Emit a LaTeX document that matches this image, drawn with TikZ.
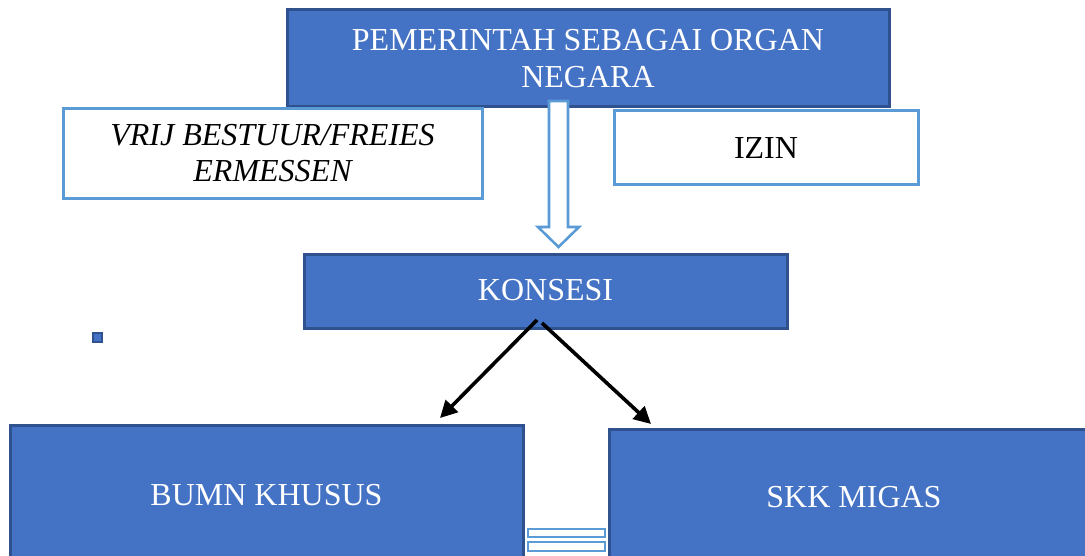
\documentclass[tikz,border=0pt]{standalone}
\usepackage{fontspec}
\setmainfont{Liberation Serif}
\usetikzlibrary{arrows.meta}
\definecolor{boxblue}{HTML}{4472C4}
\definecolor{boxedge}{HTML}{2F528F}
\definecolor{lightedge}{HTML}{5B9BD5}
\tikzset{
  bluebox/.style={draw=boxedge, fill=boxblue, line width=3pt, text=white,
    rectangle, inner sep=0pt, align=center, font=\fontsize{32}{37}\selectfont},
  whitebox/.style={draw=lightedge, fill=white, line width=3pt, text=black,
    rectangle, inner sep=0pt, align=center, font=\fontsize{32}{36}\selectfont},
  hollow/.style={draw=lightedge, fill=white, line width=2.6pt},
  blackarrow/.style={draw=black, line width=3.6pt, -{Triangle[length=17pt,width=17pt]}}
}
\begin{document}
\begin{tikzpicture}[x=1pt,y=-1pt]
\useasboundingbox (0,0) rectangle (1085,556);
\clip (0,0) rectangle (1085,556);

% top box
\node[bluebox, minimum width=602pt, minimum height=97pt] (gov) at (588,58.5)
  {PEMERINTAH SEBAGAI ORGAN\\NEGARA};

% side boxes
\node[whitebox, minimum width=419pt, minimum height=90pt] (vrij) at (272.5,153.5)
  {\itshape VRIJ BESTUUR/FREIES\\\itshape ERMESSEN};
\node[whitebox, minimum width=304pt, minimum height=74pt] (izin) at (766,148)
  {\raisebox{-7pt}{IZIN}};

% hollow down arrow
\draw[hollow] (549,101) -- (568,101) -- (568,227) -- (579,227) -- (558.5,247)
  -- (538,227) -- (549,227) -- cycle;

% konsesi
\node[bluebox, minimum width=483pt, minimum height=73pt] (kons) at (545.5,291.5)
  {\raisebox{4pt}{KONSESI}};

% small square
\node[draw=boxedge, fill=boxblue, line width=1.8pt, minimum size=9pt, inner sep=0pt] (sq) at (97.5,337.5) {};

% bottom boxes
\node[bluebox, minimum width=513pt, minimum height=141pt] (bumn) at (266.5,495.5)
  {BUMN KHUSUS};
\node[bluebox, minimum width=490pt, minimum height=137pt] (skk) at (854,497.5)
  {SKK MIGAS};

% arrows
\coordinate (k1) at (537,320);
\coordinate (k2) at (542,323);
\coordinate (b1) at (440,418);
\coordinate (s1) at (651,424);
\draw[blackarrow] (k1) -- (b1);
\draw[blackarrow] (k2) -- (s1);

% equals-like bars
\node[hollow, draw, rectangle, minimum width=77pt, minimum height=8pt, inner sep=0pt] (eq1) at (566.5,533) {};
\node[hollow, draw, rectangle, minimum width=77pt, minimum height=9pt, inner sep=0pt] (eq2) at (566.5,546.5) {};
\end{tikzpicture}
\end{document}
